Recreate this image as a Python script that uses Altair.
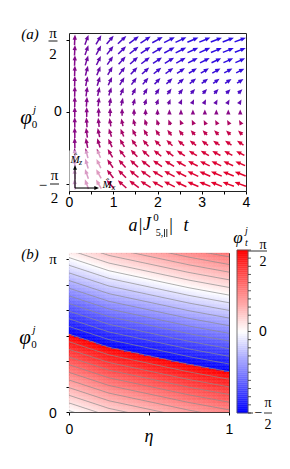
import altair as alt
import numpy as np
import pandas as pd

PI = np.pi

# ---------------- panel (a): arrow field ----------------
col_t = [0.13, 0.40, 0.67, 0.93, 1.20, 1.47, 1.73, 2.00, 2.27, 2.53, 2.80, 3.07, 3.33, 3.60, 3.87]
row_phi = [-1.571, -1.346, -1.122, -0.898, -0.673, -0.449, -0.224, 0.0,
           0.224, 0.449, 0.673, 0.898, 1.122, 1.346, 1.571]
# sideways (M_x) share of each row, sign = direction
row_tilt = [-1.0, -0.93, -0.83, -0.70, -0.55, -0.38, -0.20, 0.0,
            0.20, 0.38, 0.55, 0.70, 0.83, 0.93, 1.0]
# sideways and upward components per column
col_mx = [0.05, 0.34, 0.50, 0.66, 0.80, 0.90, 0.97, 1.02, 1.05, 1.07, 1.09, 1.10, 1.10, 1.10, 1.10]
col_mz = [1.00, 0.93, 0.86, 0.79, 0.73, 0.67, 0.62, 0.57, 0.53, 0.50, 0.47, 0.45, 0.43, 0.41, 0.40]

# ---------------- panel (b): position of the jump (phi_t = +-pi/2) ----------------
eta_pts = [0.0, 0.25, 0.5, 0.75, 1.0]
jump_phi = [1.60, 1.33, 1.155, 0.98, 0.83]

W1, H1 = 177, 158
Y1 = [-1.72, 1.72]
W2, H2 = 160, 159
Y2 = [0.0, 3.265]
CB_DOM = [-1.5517, 1.5131]

SERIF = "Liberation Serif"
SANS = "Liberation Sans"
HEAD = "M0,-1L0.75,0.8L-0.75,0.8Z"

# ---------- build arrows ----------
sx = W1 / 4.0
sy = H1 / (Y1[1] - Y1[0])
R = 2.9
shafts, heads = [], []
for k, phi in enumerate(row_phi):
    for j, t in enumerate(col_t):
        mx = row_tilt[k] * col_mx[j]
        mz = col_mz[j]
        L = min(10.6 * np.hypot(mx, mz), 12.0)
        th = np.arctan2(mx, mz)
        ux, uy = np.sin(th) / sx, np.cos(th) / sy
        half = max(L, 1.8 * R) / 2
        tipx, tipy = t + half * ux, phi + half * uy
        frac = (np.degrees(th) + 90) / 180
        heads.append(dict(x=tipx - R * ux, y=tipy - R * uy,
                          ang=float(np.degrees(th) % 360), frac=frac))
        if 2 * half > 1.8 * R + 0.6:
            shafts.append(dict(x=t - half * ux, y=phi - half * uy,
                               x2=tipx - 1.5 * R * ux, y2=tipy - 1.5 * R * uy, frac=frac))

acol = alt.Scale(domain=[0, 1], range=["#ff0010", "#1010ff"], interpolate="rgb")
xs1 = alt.Scale(domain=[0, 4], nice=False, zero=False)
ys1 = alt.Scale(domain=Y1, nice=False, zero=False)
xa1 = alt.Axis(values=[0, 0.5, 1, 1.5, 2, 2.5, 3, 3.5, 4], format=".0f",
               labelExpr="datum.value % 1 == 0 ? datum.label : ''",
               tickSize=3, tickColor="black", labelFont=SANS, labelFontSize=14,
               labelColor="black", labelPadding=1, labelFlush=False, labelOverlap=False,
               domain=False, grid=False, title=None)
ya1 = alt.Axis(values=[-PI / 2, 0, PI / 2], labels=False, tickSize=3, tickColor="black",
               domain=False, grid=False, title=None)


def X1(f):
    return alt.X(f, scale=xs1, axis=xa1)


def Yy1(f):
    return alt.Y(f, scale=ys1, axis=ya1)


shaft = alt.Chart(pd.DataFrame(shafts)).mark_rule(strokeWidth=1.5).encode(
    x=X1("x:Q"), y=Yy1("y:Q"), x2="x2:Q", y2="y2:Q",
    color=alt.Color("frac:Q", scale=acol, legend=None))
head = alt.Chart(pd.DataFrame(heads)).mark_point(
    shape=HEAD, filled=True, size=(2 * R) ** 2, opacity=1, strokeWidth=0).encode(
    x=X1("x:Q"), y=Yy1("y:Q"), angle=alt.Angle("ang:Q", scale=None),
    color=alt.Color("frac:Q", scale=acol, legend=None))

overlay = alt.Chart(pd.DataFrame({"x": [0.0], "x2": [0.8], "y": [-1.72], "y2": [-0.84]})).mark_rect(
    color="white", opacity=0.6).encode(x=X1("x:Q"), x2="x2:Q", y=Yy1("y:Q"), y2="y2:Q")

ins_x0, ins_y0 = 0.136, -1.655
ins_top, ins_right = -1.154, 0.678
Ri = 2.6
inset_sh = alt.Chart(pd.DataFrame({
    "x": [ins_x0, ins_x0], "y": [ins_y0, ins_y0],
    "x2": [ins_x0, ins_right - 1.5 * Ri / sx], "y2": [ins_top - 1.5 * Ri / sy, ins_y0]})).mark_rule(
    color="black", strokeWidth=1.1).encode(x=X1("x:Q"), y=Yy1("y:Q"), x2="x2:Q", y2="y2:Q")
inset_hd = alt.Chart(pd.DataFrame({
    "x": [ins_x0, ins_right - Ri / sx], "y": [ins_top - Ri / sy, ins_y0], "ang": [0, 90]})).mark_point(
    shape=HEAD, filled=True, size=(2 * Ri) ** 2, opacity=1, strokeWidth=0, color="black").encode(
    x=X1("x:Q"), y=Yy1("y:Q"), angle=alt.Angle("ang:Q", scale=None))


def texts(rows, font, style="normal", color="black"):
    df = pd.DataFrame(rows, columns=["t", "x", "y", "fs"])
    return alt.Chart(df).mark_text(font=font, fontStyle=style, align="center",
                                   baseline="middle", color=color).encode(
        x=alt.X("x:Q", scale=None), y=alt.Y("y:Q", scale=None),
        text="t:N", size=alt.Size("fs:Q", scale=None))


def bars(rows, color="black", width=0.9):
    df = pd.DataFrame(rows, columns=["x", "x2", "y"])
    return alt.Chart(df).mark_rule(color=color, strokeWidth=width).encode(
        x=alt.X("x:Q", scale=None), x2="x2:Q", y=alt.Y("y:Q", scale=None))


def vbars(rows, color="black", width=0.8):
    df = pd.DataFrame(rows, columns=["x", "y", "y2"])
    return alt.Chart(df).mark_rule(color=color, strokeWidth=width).encode(
        x=alt.X("x:Q", scale=None), y=alt.Y("y:Q", scale=None), y2="y2:Q")


top_it = texts([("(a)", -39, 1, 15), ("φ", -43, 85, 21), ("j", -34.5, 77, 11),
                ("a", 64, 193, 18), ("J", 78, 192, 18), ("t", 117, 193, 18),
                ("M\u0302", 6, 127, 11), ("M\u0302", 38, 152, 11),
                ("z", 11.5, 130, 8), ("x", 44.5, 155, 8)], SERIF, "italic")
top_up = texts([("π", -16, -0.5, 15), ("2", -16, 21, 15), ("π", -14.5, 141.5, 15),
                ("2", -14.5, 165, 15), ("−", -26, 152, 15), ("0", -34.5, 92, 11),
                ("|", 71.5, 193, 18), ("|", 102, 193, 18), ("0", 87, 185, 11),
                ("5,", 90.5, 200, 10)], SERIF)
top_par = vbars([(95.5, 196, 204), (97.8, 196, 204)])
top_sans = texts([("0", -11, 79, 14)], SANS)
top_bars = bars([(-20.5, -11.5, 8), (-19, -10, 151)])
anchor = bars([(-60, -59, -24)], color="white")

top = alt.layer(shaft, head, overlay, inset_sh, inset_hd, top_it, top_up, top_par,
                top_sans, top_bars, anchor).properties(width=W1, height=H1)

# ---------- panel (b) ----------
n_e, n_p = 64, 110
e_edges = np.linspace(0, 1, n_e + 1)
p_edges = np.linspace(Y2[0], Y2[1], n_p + 1)
ec = (e_edges[:-1] + e_edges[1:]) / 2
pc = (p_edges[:-1] + p_edges[1:]) / 2
shift = PI / 2 - np.interp(ec, eta_pts, jump_phi)
E0, P0 = np.meshgrid(e_edges[:-1], p_edges[:-1], indexing="ij")
E1, P1 = np.meshgrid(e_edges[1:], p_edges[1:], indexing="ij")
VAL = ((pc[None, :] + shift[:, None] + PI / 2) % PI) - PI / 2
heat_df = pd.DataFrame({"e0": E0.ravel(), "e1": E1.ravel(), "p0": P0.ravel(),
                        "p1": P1.ravel(), "val": VAL.ravel()})

eta_f = np.linspace(0, 1, 41)
jump_f = np.interp(eta_f, eta_pts, jump_phi)
cont = []
for n in range(-10, 16):
    for e, p in zip(eta_f, jump_f + n * PI / 20):
        cont.append(dict(n=n, eta=e, phi=p))
cont_df = pd.DataFrame(cont)

cs = alt.Scale(domain=[-PI / 2, 0, PI / 2], range=["#0000ff", "#ffffff", "#ff0000"], interpolate="rgb")
xs2 = alt.Scale(domain=[0, 1], nice=False, zero=False)
ys2 = alt.Scale(domain=Y2, nice=False, zero=False)
xa2 = alt.Axis(values=[0, 0.5, 1], format=".0f",
               labelExpr="datum.value == 0.5 ? '' : datum.label",
               tickSize=3, tickColor="black", labelFont=SANS, labelFontSize=14,
               labelColor="black", labelPadding=7, labelFlush=False, labelOverlap=False,
               domain=False, grid=False, title=None)
ya2 = alt.Axis(values=[k * PI / 6 for k in range(7)], labels=False, tickSize=3,
               tickColor="black", domain=False, grid=False, title=None)

heat = alt.Chart(heat_df).mark_rect(strokeWidth=0.4).encode(
    x=alt.X("e0:Q", scale=xs2, axis=xa2), x2="e1:Q",
    y=alt.Y("p0:Q", scale=ys2, axis=ya2), y2="p1:Q",
    color=alt.Color("val:Q", scale=cs, legend=None),
    stroke=alt.Stroke("val:Q", scale=cs, legend=None))
contours = alt.Chart(cont_df).mark_line(clip=True, strokeWidth=0.7, color="#8c8c8c").encode(
    x=alt.X("eta:Q", scale=xs2, axis=xa2), y=alt.Y("phi:Q", scale=ys2, axis=ya2), detail="n:N")

bot_it = texts([("(b)", -39, 1, 15), ("φ", -44, 85, 21), ("j", -35, 77, 11),
                ("η", 80, 184, 18), ("φ", 169, -15, 17), ("t", 177.5, -10, 10),
                ("j", 177.5, -22, 10)], SERIF, "italic")
bot_up = texts([("π", -16, 6, 15), ("0", -35, 92, 11), ("π", 194, -8, 14), ("2", 194, 9, 14),
                ("π", 199, 150, 14), ("2", 199, 172, 14), ("−", 189.5, 160, 14)], SERIF)
bot_sans = texts([("0", -16, 160.5, 14), ("0", 194, 78.5, 14)], SANS)
bot_bars = bars([(179, 198, -2), (179, 184, 160), (195, 203, 160)], width=0.8)

main2 = alt.layer(heat, contours, bot_it, bot_up, bot_sans, bot_bars)

cb_edges = np.linspace(-PI / 2, PI / 2, 81)
cb_df = pd.DataFrame({"v0": cb_edges[:-1], "v1": cb_edges[1:],
                      "vm": (cb_edges[:-1] + cb_edges[1:]) / 2})
ycb = alt.Scale(domain=CB_DOM, nice=False, zero=False)
cb = alt.Chart(cb_df).mark_rect(strokeWidth=0.4).encode(
    x=alt.value(168), x2=alt.value(179),
    y=alt.Y("v0:Q", scale=ycb, axis=None), y2="v1:Q",
    color=alt.Color("vm:Q", scale=cs, legend=None),
    stroke=alt.Stroke("vm:Q", scale=cs, legend=None))
cb_frame = alt.Chart(pd.DataFrame({"a": [-PI / 2], "b": [PI / 2]})).mark_rect(
    filled=False, color="#555555", strokeWidth=0.8).encode(
    x=alt.value(168), x2=alt.value(179), y=alt.Y("a:Q", scale=ycb, axis=None), y2="b:Q")
cb_ticks = alt.Chart(pd.DataFrame({"v": [k * PI / 20 for k in range(-10, 11)]})).mark_rule(
    color="#333333", strokeWidth=0.8).encode(
    x=alt.value(179), x2=alt.value(182), y=alt.Y("v:Q", scale=ycb, axis=None))
cbar = alt.layer(cb, cb_frame, cb_ticks)

bottom = alt.layer(main2, cbar).resolve_scale(y="independent").properties(width=W2, height=H2)

chart = alt.vconcat(top, bottom, spacing=62, bounds="flush").resolve_scale(
    color="independent").configure_view(stroke="#222222", strokeWidth=1).properties(
    padding={"left": 0, "top": 0, "right": 4, "bottom": 4})

chart.save("out.html", embed_options={"renderer": "svg", "actions": False})
